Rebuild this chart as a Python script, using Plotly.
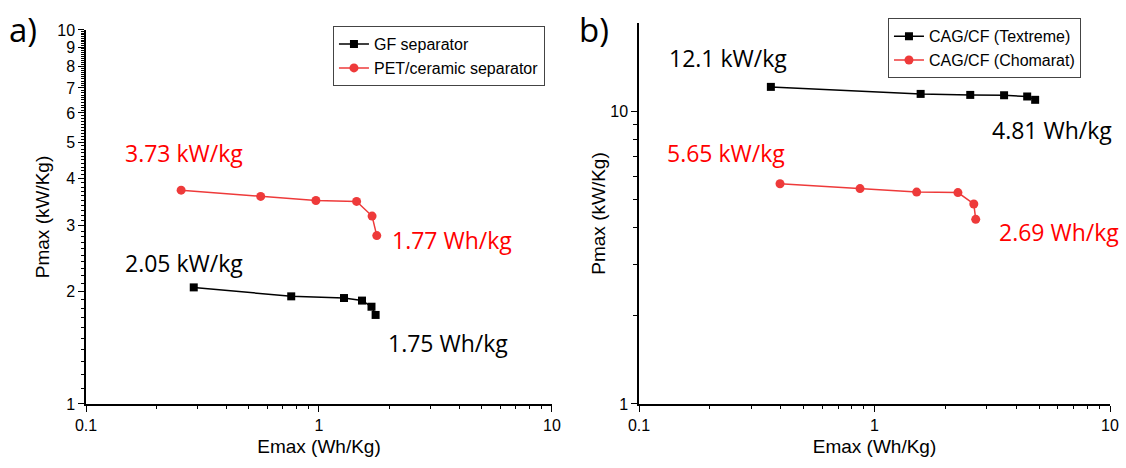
import plotly.graph_objects as go

# ---- data ----
gf_E = [0.29, 0.76, 1.28, 1.53, 1.68, 1.75]
gf_P = [2.05, 1.94, 1.92, 1.89, 1.82, 1.73]
pet_E = [0.256, 0.562, 0.97, 1.45, 1.69, 1.77]
pet_P = [3.73, 3.59, 3.50, 3.48, 3.18, 2.82]

tex_E = [0.363, 1.57, 2.55, 3.55, 4.45, 4.81]
tex_P = [12.1, 11.45, 11.36, 11.33, 11.22, 10.93]
cho_E = [0.397, 0.868, 1.51, 2.26, 2.64, 2.69]
cho_P = [5.65, 5.44, 5.29, 5.27, 4.82, 4.27]

x_ticks = [0.1, 1, 10]
y_ticks_a = [1, 2, 3, 4, 5, 6, 7, 8, 9, 10]
y_ticks_b = [1, 10]

BLACK = "#000000"
RED = "#ee3a3a"
TXT_RED = "#ff0000"

fig = go.Figure()

fig.add_trace(go.Scatter(x=gf_E, y=gf_P, name="GF separator", mode="lines+markers",
                         line=dict(color=BLACK, width=1.5),
                         marker=dict(symbol="square", size=8, color=BLACK),
                         xaxis="x", yaxis="y", legend="legend"))
fig.add_trace(go.Scatter(x=pet_E, y=pet_P, name="PET/ceramic separator", mode="lines+markers",
                         line=dict(color=RED, width=1.5),
                         marker=dict(symbol="circle", size=9, color=RED),
                         xaxis="x", yaxis="y", legend="legend"))
fig.add_trace(go.Scatter(x=tex_E, y=tex_P, name="CAG/CF (Textreme)", mode="lines+markers",
                         line=dict(color=BLACK, width=1.5),
                         marker=dict(symbol="square", size=8, color=BLACK),
                         xaxis="x2", yaxis="y2", legend="legend2"))
fig.add_trace(go.Scatter(x=cho_E, y=cho_P, name="CAG/CF (Chomarat)", mode="lines+markers",
                         line=dict(color=RED, width=1.5),
                         marker=dict(symbol="circle", size=9, color=RED),
                         xaxis="x2", yaxis="y2", legend="legend2"))

minor_x = [v * m for v in (0.1, 1) for m in range(2, 10)]
minor_ya = [round(1 + i * 0.1, 2) for i in range(1, 90) if (i % 10) != 0]
minor_yb = [2, 3, 4, 5, 6, 7, 8, 9]

FONT = "Arial, Liberation Sans, sans-serif"
axis_common = dict(type="log", showline=True, linecolor="black", linewidth=1.5,
                   ticks="outside", tickcolor="black", ticklen=6, tickwidth=1.2,
                   showgrid=False, zeroline=False, mirror=False, automargin=False,
                   tickfont=dict(family=FONT, size=16, color="black"),
                   title_font=dict(family=FONT, size=19, color="black"))

fig.update_layout(
    width=1126, height=468,
    margin=dict(l=0, r=0, t=0, b=0, autoexpand=False),
    paper_bgcolor="white", plot_bgcolor="white",
    font=dict(family=FONT, color="black"),
    xaxis=dict(domain=[0.0764, 0.4902], range=[-1, 1], anchor="y",
               tickmode="array", tickvals=x_ticks, ticktext=["0.1", "1", "10"],
               minor=dict(tickmode="array", tickvals=minor_x, ticks="outside", ticklen=3, tickcolor="black"),
               title=dict(text="Emax (Wh/Kg)", standoff=7), **axis_common),
    yaxis=dict(domain=[0.1368, 0.9359], range=[0, 1], anchor="x",
               tickmode="array", tickvals=y_ticks_a, ticktext=[str(v) for v in y_ticks_a],
               minor=dict(tickmode="array", tickvals=minor_ya, ticks="outside", ticklen=3, tickcolor="black"),
               title=dict(text="Pmax (kW/Kg)", standoff=3), **axis_common),
    xaxis2=dict(domain=[0.5675, 0.9858], range=[-1, 1], anchor="y2",
                tickmode="array", tickvals=x_ticks, ticktext=["0.1", "1", "10"],
                minor=dict(tickmode="array", tickvals=minor_x, ticks="outside", ticklen=3, tickcolor="black"),
                title=dict(text="Emax (Wh/Kg)", standoff=7), **axis_common),
    yaxis2=dict(domain=[0.1368, 0.9509], range=[0, 1.301], anchor="x2",
                tickmode="array", tickvals=y_ticks_b, ticktext=["1", "10"],
                minor=dict(tickmode="array", tickvals=minor_yb, ticks="outside", ticklen=4, tickcolor="black"),
                title=dict(text="Pmax (kW/Kg)", standoff=0), **axis_common),
    legend=dict(x=0.2957, y=0.944, xanchor="left", yanchor="top",
                bordercolor="#444", borderwidth=1, bgcolor="white",
                font=dict(family=FONT, size=16, color="black"),
                tracegroupgap=0, itemsizing="trace"),
    legend2=dict(x=0.7886, y=0.961, xanchor="left", yanchor="top",
                 bordercolor="#444", borderwidth=1, bgcolor="white",
                 font=dict(family=FONT, size=16, color="black"),
                 tracegroupgap=0, itemsizing="trace"),
    showlegend=True,
)

ann_font = "Open Sans"
anns = [
    ("3.73 kW/kg", 0.1092, 0.673, TXT_RED),
    ("1.77 Wh/kg", 0.3464, 0.4872, TXT_RED),
    ("2.05 kW/kg", 0.1092, 0.438, BLACK),
    ("1.75 Wh/kg", 0.3428, 0.267, BLACK),
    ("12.1 kW/kg", 0.5924, 0.876, BLACK),
    ("4.81 Wh/kg", 0.8792, 0.722, BLACK),
    ("5.65 kW/kg", 0.5906, 0.673, TXT_RED),
    ("2.69 Wh/kg", 0.8854, 0.504, TXT_RED),
]
for t, x, y, c in anns:
    fig.add_annotation(text=t, x=x, y=y, xref="paper", yref="paper",
                       xanchor="left", yanchor="middle", showarrow=False,
                       font=dict(family=ann_font, size=23, color=c))

for t, x in [("a)", 0.006), ("b)", 0.512)]:
    fig.add_annotation(text=t, x=x, y=1 - 29 / 468, xref="paper", yref="paper",
                       xanchor="left", yanchor="middle", showarrow=False,
                       font=dict(family=ann_font, size=33, color="black"))

fig.write_html("out.html")
